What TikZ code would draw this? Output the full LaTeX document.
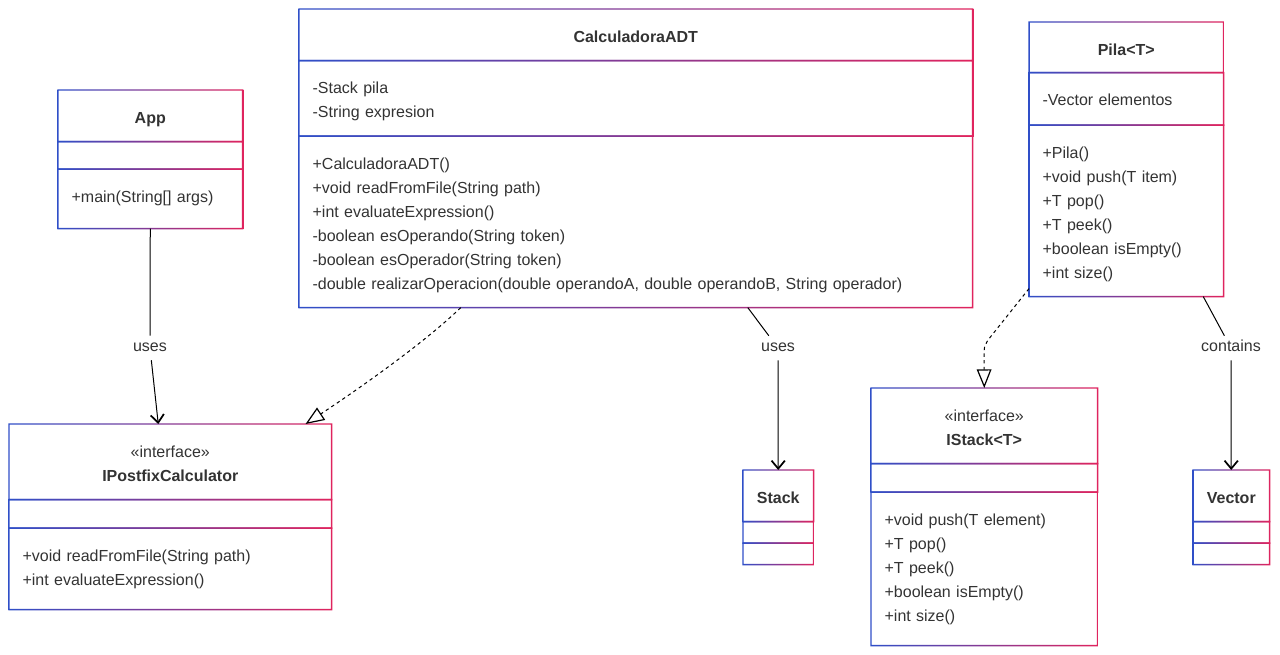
\documentclass[tikz,border=0pt]{standalone}
\usepackage{fontspec}
\setmainfont{Liberation Sans}
\usetikzlibrary{positioning,arrows.meta}
\definecolor{umlblue}{HTML}{2F4FC8}
\definecolor{umlred}{HTML}{E0245E}
\definecolor{textgray}{HTML}{333333}
\tikzset{part/.style={rectangle, inner sep=0pt, minimum width=#1}}
\tikzstyle{classname} = [inner sep=0pt, align=center, text=textgray, font=\fontsize{12}{18}\selectfont\bfseries]
\tikzstyle{members} = [inner sep=0pt, align=left, text=textgray, font=\fontsize{12}{18}\selectfont]
\tikzstyle{edgelabel} = [fill=white, inner xsep=2pt, inner ysep=3pt, text height=9pt, text depth=3pt, text=textgray, font=\fontsize{12}{14}\selectfont]
\tikzstyle{link} = [line width=0.75pt, black]
\tikzstyle{assoc} = [-{Straight Barb[length=6pt, width=10pt, line width=1.3pt]}]
\tikzstyle{realize} = [line width=0.75pt, dash pattern=on 2.5pt off 2.5pt, -{Triangle[open, length=14pt, width=11pt, line width=0.9pt]}]
\newcommand{\gradframe}[1]{\shade[left color=umlblue, right color=umlred, even odd rule]
  ([shift={(-0.55pt,-0.55pt)}]#1.south west) rectangle ([shift={(0.55pt,0.55pt)}]#1.north east)
  ([shift={(0.55pt,0.55pt)}]#1.south west) rectangle ([shift={(-0.55pt,-0.55pt)}]#1.north east);}
\begin{document}
\begin{tikzpicture}[x=0.75pt, y=-0.75pt]
	\useasboundingbox (0,0) rectangle (1280,655);
	% compartments
	\node (apptitle) [part=138pt, minimum height=38.25pt, anchor=north west] at (58,90) {};
	\node (appattr) [part=138pt, minimum height=20.25pt, below=0pt of apptitle] {};
	\node (appmeth) [part=138pt, minimum height=44.25pt, below=0pt of appattr] {};

	\node (calctitle) [part=504.75pt, minimum height=38.25pt, anchor=north west] at (299,9) {};
	\node (calcattr) [part=504.75pt, minimum height=56.25pt, below=0pt of calctitle] {};
	\node (calcmeth) [part=504.75pt, minimum height=128.25pt, below=0pt of calcattr] {};

	\node (pilatitle) [part=145.5pt, minimum height=37.5pt, anchor=north west] at (1029,22) {};
	\node (pilaattr) [part=145.5pt, minimum height=39pt, below=0pt of pilatitle] {};
	\node (pilameth) [part=145.5pt, minimum height=128.25pt, below=0pt of pilaattr] {};

	\node (postfixtitle) [part=241.5pt, minimum height=56.25pt, anchor=north west] at (9,424) {};
	\node (postfixattr) [part=241.5pt, minimum height=21pt, below=0pt of postfixtitle] {};
	\node (postfixmeth) [part=241.5pt, minimum height=60.75pt, below=0pt of postfixattr] {};

	\node (stacktitle) [part=52.5pt, minimum height=38.25pt, anchor=north west] at (743,470) {};
	\node (stackattr) [part=52.5pt, minimum height=15.75pt, below=0pt of stacktitle] {};
	\node (stackmeth) [part=52.5pt, minimum height=15.75pt, below=0pt of stackattr] {};

	\node (istacktitle) [part=169.5pt, minimum height=56.25pt, anchor=north west] at (871,388) {};
	\node (istackattr) [part=169.5pt, minimum height=21pt, below=0pt of istacktitle] {};
	\node (istackmeth) [part=169.5pt, minimum height=114.75pt, below=0pt of istackattr] {};

	\node (vectortitle) [part=57pt, minimum height=38.25pt, anchor=north west] at (1193,470) {};
	\node (vectorattr) [part=57pt, minimum height=15.75pt, below=0pt of vectortitle] {};
	\node (vectormeth) [part=57pt, minimum height=15.75pt, below=0pt of vectorattr] {};

	\foreach \part in {apptitle, appattr, appmeth, calctitle, calcattr, calcmeth, pilatitle, pilaattr, pilameth, postfixtitle, postfixattr, postfixmeth, stacktitle, stackattr, stackmeth, istacktitle, istackattr, istackmeth, vectortitle, vectorattr, vectormeth}
		\gradframe{\part};

	% texts
	\node (appname) [classname, text width=138pt, below=24.8pt of apptitle.north, anchor=base] {App};
	\node (appops) [members, text width=118pt, below right=24.8pt and 10pt of appmeth.north west, anchor=base west] {+main(String[] args)};

	\node (calcname) [classname, text width=504.75pt, below=24.8pt of calctitle.north, anchor=base] {CalculadoraADT};
	\node (calcfields) [members, text width=484.75pt, below right=24.8pt and 10pt of calcattr.north west, anchor=base west] {-Stack pila\\-String expresion};
	\node (calcops) [members, text width=484.75pt, below right=24.8pt and 10pt of calcmeth.north west, anchor=base west] {+CalculadoraADT()\\+void readFromFile(String path)\\+int evaluateExpression()\\-boolean esOperando(String token)\\-boolean esOperador(String token)\\-double realizarOperacion(double operandoA, double operandoB, String operador)};

	\node (pilaname) [classname, text width=145.5pt, below=24.8pt of pilatitle.north, anchor=base] {Pila<T>};
	\node (pilafields) [members, text width=125.5pt, below right=24.8pt and 10pt of pilaattr.north west, anchor=base west] {-Vector elementos};
	\node (pilaops) [members, text width=125.5pt, below right=24.8pt and 10pt of pilameth.north west, anchor=base west] {+Pila()\\+void push(T item)\\+T pop()\\+T peek()\\+boolean isEmpty()\\+int size()};

	\node (postfixname) [classname, text width=241.5pt, below=24.8pt of postfixtitle.north, anchor=base] {{\mdseries «interface»}\\IPostfixCalculator};
	\node (postfixops) [members, text width=221.5pt, below right=24.8pt and 10pt of postfixmeth.north west, anchor=base west] {+void readFromFile(String path)\\+int evaluateExpression()};

	\node (stackname) [classname, text width=52.5pt, below=24.8pt of stacktitle.north, anchor=base] {Stack};

	\node (istackname) [classname, text width=169.5pt, below=24.8pt of istacktitle.north, anchor=base] {{\mdseries «interface»}\\IStack<T>};
	\node (istackops) [members, text width=149.5pt, below right=24.8pt and 10pt of istackmeth.north west, anchor=base west] {+void push(T element)\\+T pop()\\+T peek()\\+boolean isEmpty()\\+int size()};

	\node (vectorname) [classname, text width=57pt, below=24.8pt of vectortitle.north, anchor=base] {Vector};

	% relations
	\node (usesapp) [edgelabel] at (150,348) {uses};
	\node (usesstack) [edgelabel] at (778,348) {uses};
	\node (contains) [edgelabel] at (1231,348) {contains};

	\draw [link] (appmeth.south) -- (usesapp);
	\draw [link, assoc] (usesapp) -- ([shift={(-12,0)}]postfixtitle.north);
	\draw [link, realize] ([shift={(-175,0)}]calcmeth.south) .. controls (420,347) and (345,398) .. ([shift={(-26,0)}]postfixtitle.north east);
	\draw [link] ([shift={(112,0)}]calcmeth.south) -- (usesstack);
	\draw [link, assoc] (usesstack) -- (stacktitle);
	\draw [link, realize] ([shift={(0,-8)}]pilameth.south west) -- (988,340) .. controls (984,347) .. (984,358) -- (istacktitle.north);
	\draw [link] ([shift={(77,0)}]pilameth.south) -- (contains);
	\draw [link, assoc] (contains) -- (vectortitle);
\end{tikzpicture}
\end{document}
